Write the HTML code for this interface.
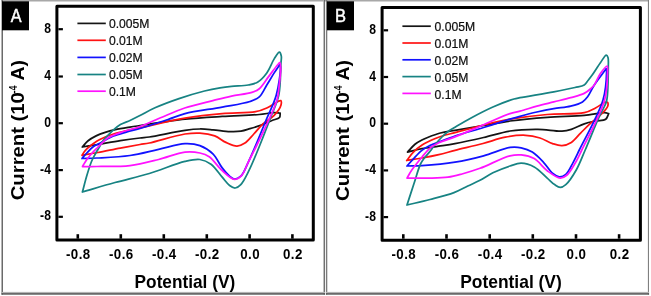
<!DOCTYPE html>
<html><head><meta charset="utf-8"><style>
html,body{margin:0;padding:0;background:#fff;}
svg{display:block;will-change:transform;filter:blur(0.3px);}
text{font-family:"Liberation Sans",sans-serif;}
.tky{font-weight:bold;font-size:15.2px;letter-spacing:0.3px;}
.tkx{font-weight:bold;font-size:14.8px;letter-spacing:0.5px;}
.ax{font-weight:bold;font-size:19px;}
.lg{font-size:12.6px;stroke:#000;stroke-width:0.2px;fill:#111;}
.pl{font-size:18px;fill:#fff;stroke:#fff;stroke-width:0.45px;}
</style></head><body>
<svg width="651" height="296" viewBox="0 0 651 296">
<rect width="651" height="296" fill="#fff"/>
<rect x="1.5" y="0" width="647.5" height="1.5" fill="#a8a8a8"/><rect x="1.5" y="0" width="1.5" height="294.6" fill="#6a6a6a"/><rect x="323.2" y="0" width="0.9" height="294.6" fill="#b0b0b0"/><rect x="324.1" y="0" width="0.9" height="294.6" fill="#606060"/><rect x="325.9" y="0" width="1.4" height="294.6" fill="#7a7a7a"/><rect x="647.9" y="0" width="1.1" height="294.6" fill="#808080"/><rect x="1.5" y="291.9" width="323.5" height="1.2" fill="#b4b4b4"/><rect x="1.5" y="293.1" width="323.5" height="1.6" fill="#5a5a5a"/><rect x="325.9" y="291.9" width="323.2" height="1.2" fill="#b4b4b4"/><rect x="325.9" y="293.1" width="323.2" height="1.6" fill="#5a5a5a"/><rect x="2" y="1.3" width="27" height="29" fill="#000"/><text transform="translate(16.1,22.3) scale(0.9,1)" class="pl" text-anchor="middle">A</text><rect x="327" y="1.3" width="27" height="29" fill="#000"/><text transform="translate(340.4,22.3) scale(0.92,1)" class="pl" text-anchor="middle">B</text><path d="M82.30,147.00 C84.23,144.93 85.87,142.62 88.10,140.80 C90.44,138.89 93.28,137.29 96.10,135.90 C98.97,134.48 102.06,133.42 105.20,132.40 C108.45,131.34 111.60,130.52 115.30,129.70 C119.72,128.72 125.57,127.82 130.00,127.10 C133.65,126.50 135.47,126.26 140.00,125.60 C149.61,124.20 170.69,120.75 185.00,119.20 C197.97,117.79 209.80,117.18 222.20,116.40 C234.57,115.62 249.80,115.33 259.30,114.50 C265.26,113.98 269.94,112.79 273.80,112.70 C276.36,112.64 278.07,113.03 280.20,113.20 C279.97,114.63 280.41,116.36 279.50,117.50 C278.26,119.05 274.72,119.39 272.00,120.50 C268.74,121.84 264.94,123.64 261.30,125.00 C257.61,126.38 253.56,127.62 250.00,128.70 C246.84,129.66 244.18,130.71 241.00,131.20 C237.55,131.73 234.06,131.74 230.00,131.60 C224.94,131.43 218.30,130.24 213.00,129.80 C208.35,129.41 204.40,128.94 199.90,129.00 C195.09,129.06 191.01,129.48 185.00,130.30 C175.63,131.58 157.36,135.81 149.30,137.00 C145.21,137.60 143.67,137.55 140.00,138.00 C134.65,138.65 127.06,139.66 120.30,140.70 C113.09,141.81 104.79,143.38 98.00,144.50 C92.31,145.44 87.53,146.17 82.30,147.00Z" fill="none" stroke="#151515" stroke-width="1.75" stroke-linejoin="round"/>
<path d="M82.00,155.30 C83.13,153.63 83.88,151.99 85.40,150.30 C87.42,148.07 90.85,145.43 93.50,143.50 C95.81,141.81 97.58,140.58 100.30,139.20 C103.91,137.37 109.03,135.45 113.50,134.00 C117.93,132.56 122.53,131.54 127.00,130.50 C131.36,129.48 134.37,128.99 140.00,127.80 C150.49,125.59 170.66,120.61 185.00,118.20 C197.94,116.02 210.12,114.69 222.20,113.60 C233.62,112.57 247.51,113.24 255.60,111.70 C260.41,110.79 263.16,109.64 266.80,108.00 C270.60,106.28 275.38,102.63 277.90,101.50 C279.10,100.96 280.15,100.23 280.70,100.60 C281.37,101.06 281.44,103.31 281.00,105.00 C280.26,107.84 277.07,112.34 274.20,115.40 C271.15,118.65 266.41,120.68 263.00,123.80 C259.62,126.89 256.92,130.72 253.80,134.00 C250.75,137.21 247.66,141.27 244.50,143.30 C242.04,144.88 239.75,146.05 237.00,146.10 C233.67,146.16 229.53,144.04 225.90,142.40 C222.09,140.68 218.84,137.44 214.70,135.90 C210.24,134.24 204.86,133.41 199.90,133.10 C194.96,132.79 190.98,133.07 185.00,134.00 C175.60,135.45 157.37,141.34 149.30,143.00 C145.22,143.84 143.67,143.87 140.00,144.50 C134.65,145.42 127.07,146.81 120.30,148.10 C113.09,149.47 104.82,151.23 98.00,152.50 C92.23,153.57 87.33,154.37 82.00,155.30Z" fill="none" stroke="#ff1212" stroke-width="1.75" stroke-linejoin="round"/>
<path d="M82.00,158.50 C83.60,156.67 85.02,154.87 86.80,153.00 C88.81,150.88 91.12,148.21 93.50,146.50 C95.65,144.96 97.67,144.38 100.30,143.00 C103.98,141.08 108.98,137.86 113.50,136.00 C117.89,134.19 122.53,133.16 127.00,131.90 C131.36,130.67 134.87,129.99 140.00,128.50 C147.59,126.29 159.84,122.23 168.00,119.50 C174.38,117.37 178.15,115.37 185.00,113.60 C194.92,111.03 210.71,109.26 222.20,107.10 C232.15,105.23 243.31,103.78 250.00,101.50 C254.04,100.12 256.64,99.30 259.30,96.90 C262.40,94.11 264.32,88.99 266.80,85.00 C269.29,80.99 271.87,76.55 274.20,72.90 C276.16,69.82 277.93,67.30 279.80,64.50 C280.03,65.33 280.42,65.70 280.50,67.00 C280.77,71.28 278.80,85.90 276.30,95.00 C273.76,104.24 268.86,113.31 265.30,122.00 C261.97,130.13 258.66,138.43 255.60,145.60 C253.01,151.67 250.77,157.03 248.20,162.30 C245.82,167.19 243.72,173.51 240.80,176.20 C238.84,178.01 236.26,179.13 234.30,179.00 C232.58,178.89 231.23,177.55 229.60,176.20 C227.27,174.28 224.69,171.13 222.20,167.90 C219.14,163.93 216.73,157.66 212.90,153.90 C209.23,150.30 204.59,147.30 199.90,145.60 C195.28,143.93 190.65,143.47 185.00,143.70 C177.43,144.01 167.57,147.38 158.60,149.30 C149.26,151.30 139.93,154.06 130.00,155.50 C119.42,157.04 105.76,157.52 96.90,158.00 C90.96,158.32 86.97,158.33 82.00,158.50Z" fill="none" stroke="#1212ff" stroke-width="1.75" stroke-linejoin="round"/>
<path d="M82.40,192.00 C83.93,186.33 85.40,180.32 87.00,175.00 C88.44,170.22 89.96,165.22 91.50,161.50 C92.64,158.74 93.80,156.72 95.00,154.50 C96.13,152.40 97.25,150.64 98.50,148.50 C99.95,146.02 101.47,142.81 103.20,140.50 C104.74,138.45 106.51,136.94 108.20,135.20 C109.88,133.47 111.40,131.77 113.30,130.10 C115.42,128.23 117.74,126.16 120.40,124.60 C123.26,122.92 126.79,121.99 130.00,120.50 C133.32,118.96 136.34,117.36 140.00,115.50 C144.50,113.22 149.34,110.33 155.00,107.80 C161.99,104.68 170.82,101.38 179.00,98.60 C187.32,95.77 197.02,92.88 204.50,91.00 C210.27,89.55 215.20,88.61 220.00,87.80 C224.11,87.11 227.30,86.74 231.50,86.30 C236.54,85.78 243.48,85.88 248.20,85.00 C251.79,84.33 254.60,83.93 257.50,82.20 C260.87,80.18 264.11,76.55 266.80,72.90 C269.76,68.90 271.80,62.65 274.20,58.90 C275.97,56.14 278.17,51.96 279.40,52.10 C280.30,52.20 280.99,54.59 281.30,56.20 C281.70,58.26 281.10,60.28 280.90,63.60 C280.49,70.44 280.78,85.59 278.80,95.00 C277.09,103.12 273.72,109.24 270.80,117.00 C267.49,125.79 263.62,135.90 259.90,145.00 C256.31,153.78 252.51,163.53 248.90,170.70 C246.16,176.14 243.64,181.71 240.80,184.60 C238.99,186.44 237.10,187.88 235.20,188.00 C233.36,188.12 231.45,186.85 229.60,185.50 C227.11,183.68 224.91,180.29 222.20,177.20 C218.84,173.36 215.10,167.19 211.00,164.20 C207.56,161.69 203.95,160.06 199.90,159.50 C195.37,158.88 190.95,160.03 185.00,161.40 C175.57,163.58 161.14,169.94 149.30,173.50 C137.81,176.95 126.27,179.38 115.00,182.50 C103.97,185.55 93.27,188.83 82.40,192.00Z" fill="none" stroke="#178383" stroke-width="1.75" stroke-linejoin="round"/>
<path d="M82.50,166.50 C83.93,164.17 85.20,161.74 86.80,159.50 C88.43,157.23 90.36,155.04 92.20,153.00 C93.96,151.05 95.89,149.24 97.60,147.50 C99.14,145.93 100.38,144.52 102.00,143.00 C103.83,141.29 105.57,139.36 108.10,137.80 C111.35,135.79 115.70,134.29 120.30,132.60 C126.04,130.50 133.43,128.90 140.00,126.50 C146.83,124.00 153.37,120.76 160.50,117.80 C168.22,114.60 176.23,110.81 184.70,108.00 C193.65,105.03 204.47,102.73 212.90,100.60 C219.73,98.88 225.14,97.45 231.50,96.10 C238.12,94.70 246.87,94.07 251.90,92.40 C255.07,91.34 256.91,90.67 259.30,88.70 C262.54,86.02 265.50,80.63 268.60,76.60 C271.70,72.57 275.91,66.71 277.90,64.50 C278.72,63.59 279.34,62.54 279.80,62.70 C280.53,62.96 280.64,66.47 280.70,69.20 C280.79,73.80 279.60,82.26 278.90,87.80 C278.33,92.30 278.54,94.79 277.00,100.00 C273.92,110.42 262.33,133.57 256.90,145.00 C253.50,152.17 250.89,156.94 248.20,162.30 C245.87,166.94 244.47,172.41 241.70,175.30 C239.59,177.51 237.01,179.56 234.30,179.40 C230.70,179.19 226.14,174.17 222.20,170.70 C217.74,166.77 213.50,159.65 209.20,156.70 C206.08,154.57 203.44,153.79 199.90,153.00 C195.58,152.04 190.61,151.50 185.00,152.10 C177.39,152.91 167.61,157.28 158.60,159.50 C149.29,161.79 139.94,164.42 130.00,165.60 C119.42,166.86 105.67,166.38 96.90,166.50 C91.12,166.58 87.30,166.50 82.50,166.50Z" fill="none" stroke="#ff12ff" stroke-width="1.75" stroke-linejoin="round"/>
<rect x="56.9" y="6.3" width="256.4" height="233.8" fill="none" stroke="#000" stroke-width="3" stroke-linejoin="round"/>
<line x1="58.4" y1="29.2" x2="62.9" y2="29.2" stroke="#000" stroke-width="2.2"/>
<text transform="translate(51.20,32.70) scale(0.800,1)" class="tky" text-anchor="end">8</text>
<line x1="58.4" y1="76.5" x2="62.9" y2="76.5" stroke="#000" stroke-width="2.2"/>
<text transform="translate(51.20,80.00) scale(0.800,1)" class="tky" text-anchor="end">4</text>
<line x1="58.4" y1="123.2" x2="62.9" y2="123.2" stroke="#000" stroke-width="2.2"/>
<text transform="translate(51.20,126.70) scale(0.800,1)" class="tky" text-anchor="end">0</text>
<line x1="58.4" y1="170.1" x2="62.9" y2="170.1" stroke="#000" stroke-width="2.2"/>
<text transform="translate(51.20,173.60) scale(0.800,1)" class="tky" text-anchor="end">-4</text>
<line x1="58.4" y1="216.8" x2="62.9" y2="216.8" stroke="#000" stroke-width="2.2"/>
<text transform="translate(51.20,220.30) scale(0.800,1)" class="tky" text-anchor="end">-8</text>
<line x1="77.8" y1="238.7" x2="77.8" y2="234.2" stroke="#000" stroke-width="2.6"/>
<text transform="translate(78.30,259.20) scale(0.900,1)" class="tkx" text-anchor="middle">-0.8</text>
<line x1="120.8" y1="238.7" x2="120.8" y2="234.2" stroke="#000" stroke-width="2.6"/>
<text transform="translate(121.30,259.20) scale(0.900,1)" class="tkx" text-anchor="middle">-0.6</text>
<line x1="163.8" y1="238.7" x2="163.8" y2="234.2" stroke="#000" stroke-width="2.6"/>
<text transform="translate(164.30,259.20) scale(0.900,1)" class="tkx" text-anchor="middle">-0.4</text>
<line x1="206.8" y1="238.7" x2="206.8" y2="234.2" stroke="#000" stroke-width="2.6"/>
<text transform="translate(207.30,259.20) scale(0.900,1)" class="tkx" text-anchor="middle">-0.2</text>
<line x1="249.6" y1="238.7" x2="249.6" y2="234.2" stroke="#000" stroke-width="2.6"/>
<text transform="translate(250.10,259.20) scale(0.900,1)" class="tkx" text-anchor="middle">0.0</text>
<line x1="292.4" y1="238.7" x2="292.4" y2="234.2" stroke="#000" stroke-width="2.6"/>
<text transform="translate(292.90,259.20) scale(0.900,1)" class="tkx" text-anchor="middle">0.2</text>
<line x1="77.4" y1="23.4" x2="105.8" y2="23.4" stroke="#151515" stroke-width="1.7"/>
<text transform="translate(108.90,28.10) scale(0.965,1)" class="lg">0.005M</text>
<line x1="77.4" y1="40.3" x2="105.8" y2="40.3" stroke="#ff1212" stroke-width="1.7"/>
<text transform="translate(108.90,45.00) scale(0.965,1)" class="lg">0.01M</text>
<line x1="77.4" y1="57.4" x2="105.8" y2="57.4" stroke="#1212ff" stroke-width="1.7"/>
<text transform="translate(108.90,62.10) scale(0.965,1)" class="lg">0.02M</text>
<line x1="77.4" y1="74.5" x2="105.8" y2="74.5" stroke="#178383" stroke-width="1.7"/>
<text transform="translate(108.90,79.20) scale(0.965,1)" class="lg">0.05M</text>
<line x1="77.4" y1="91.2" x2="105.8" y2="91.2" stroke="#ff12ff" stroke-width="1.7"/>
<text transform="translate(108.90,95.90) scale(0.965,1)" class="lg">0.1M</text>
<text x="134.6" y="288.3" class="ax" textLength="100.6" lengthAdjust="spacingAndGlyphs">Potential (V)</text>
<text transform="translate(23.60,200.30) rotate(-90)" class="ax" style="font-size:18.0px" textLength="108.20" lengthAdjust="spacingAndGlyphs">Current (10</text>
<text transform="translate(23.60,93.40) rotate(-90)" class="ax" style="font-size:10.5px" y="-7.00" textLength="7.90" lengthAdjust="spacingAndGlyphs">-4</text>
<text transform="translate(23.60,80.60) rotate(-90)" class="ax" style="font-size:18.0px" textLength="20.50" lengthAdjust="spacingAndGlyphs">A)</text><path d="M407.50,152.10 C410.00,149.47 412.41,146.29 415.00,144.20 C417.23,142.40 419.61,141.20 421.90,140.00 C424.01,138.89 425.74,138.17 428.20,137.20 C431.56,135.87 436.02,134.13 440.30,133.00 C444.92,131.78 449.29,131.30 455.00,130.30 C462.96,128.90 474.26,127.08 483.60,125.50 C492.58,123.98 500.42,122.29 510.00,121.00 C521.32,119.47 534.80,118.23 547.20,117.30 C559.56,116.37 573.77,116.36 584.30,115.40 C592.16,114.68 600.66,112.50 604.80,112.70 C606.62,112.79 607.40,113.30 608.70,113.60 C607.70,115.47 607.43,117.95 605.70,119.20 C603.49,120.80 598.97,120.26 595.50,121.00 C591.84,121.78 588.12,122.51 584.30,123.80 C580.07,125.23 575.33,128.16 571.30,129.40 C568.00,130.42 565.84,130.98 562.00,131.20 C555.86,131.56 546.23,129.47 537.90,129.40 C528.94,129.32 519.11,129.63 510.00,131.00 C501.01,132.35 492.59,135.43 483.60,137.50 C474.27,139.64 463.20,142.07 455.00,143.60 C448.85,144.75 444.26,145.36 438.80,146.20 C433.23,147.06 427.29,147.67 421.90,148.70 C416.89,149.66 412.30,150.97 407.50,152.10Z" fill="none" stroke="#151515" stroke-width="1.75" stroke-linejoin="round"/>
<path d="M406.70,160.50 C408.93,157.70 410.87,154.66 413.40,152.10 C415.99,149.48 418.76,147.15 422.10,145.00 C425.92,142.54 431.14,140.24 435.30,138.50 C438.84,137.02 442.05,135.98 445.40,135.00 C448.62,134.06 450.96,133.73 455.00,132.70 C462.00,130.92 474.23,127.29 483.60,125.00 C492.55,122.81 500.41,120.86 510.00,119.20 C521.30,117.25 534.79,115.58 547.20,114.50 C559.55,113.42 575.65,114.66 584.30,112.70 C589.25,111.58 592.00,109.78 595.50,108.00 C598.81,106.32 602.59,103.11 604.80,102.40 C605.88,102.05 606.88,101.76 607.40,102.20 C608.03,102.73 608.19,104.61 607.80,106.00 C607.19,108.19 604.53,110.94 602.10,113.50 C598.93,116.83 593.63,120.38 589.90,123.80 C586.52,126.91 583.70,130.00 580.60,133.10 C577.50,136.20 574.66,140.30 571.30,142.40 C568.39,144.22 565.14,145.41 562.00,145.60 C558.90,145.79 555.90,144.67 552.60,143.60 C548.64,142.32 544.43,139.38 540.00,138.00 C535.42,136.58 530.75,135.54 525.50,135.30 C519.34,135.02 512.14,135.92 505.30,137.20 C497.99,138.56 490.87,141.42 483.00,143.50 C474.22,145.82 463.06,148.36 455.00,150.40 C448.86,151.95 444.27,153.34 438.80,154.60 C433.24,155.88 427.39,157.00 421.90,158.00 C416.71,158.95 411.77,159.67 406.70,160.50Z" fill="none" stroke="#ff1212" stroke-width="1.75" stroke-linejoin="round"/>
<path d="M407.00,166.00 C409.13,163.63 411.08,161.34 413.40,158.90 C416.00,156.16 418.93,152.73 421.90,150.40 C424.59,148.29 427.43,146.72 430.30,145.30 C433.07,143.94 435.51,143.25 438.80,142.00 C443.33,140.28 448.80,138.07 455.00,136.00 C463.15,133.28 474.27,130.35 483.60,127.50 C492.59,124.75 503.29,121.23 510.00,119.20 C514.12,117.96 516.22,117.33 520.00,116.30 C524.89,114.97 531.25,113.29 536.90,112.00 C542.52,110.72 548.15,109.58 553.80,108.60 C559.42,107.62 565.63,107.37 570.70,106.10 C575.04,105.02 579.53,103.78 582.50,101.90 C584.75,100.48 585.93,98.99 587.60,96.80 C589.89,93.79 591.60,89.17 594.30,85.00 C597.60,79.89 602.30,74.07 606.30,68.60 C606.40,69.73 606.63,70.32 606.60,72.00 C606.50,76.83 606.05,89.60 603.00,100.00 C598.73,114.57 584.65,138.96 579.30,150.00 C576.63,155.50 575.43,158.27 573.20,162.30 C570.93,166.40 568.64,172.07 565.80,174.40 C563.82,176.03 561.44,176.92 559.30,176.80 C557.11,176.67 554.98,175.24 552.80,173.50 C549.72,171.04 546.88,165.84 543.50,162.30 C540.06,158.69 536.27,154.55 532.30,152.10 C528.78,149.92 524.97,148.58 521.20,147.80 C517.54,147.05 514.46,146.79 510.00,147.40 C502.99,148.36 492.63,153.36 483.60,155.80 C474.31,158.31 464.93,160.58 455.00,162.20 C444.42,163.92 430.77,165.03 421.90,165.60 C415.96,165.98 411.97,165.87 407.00,166.00Z" fill="none" stroke="#1212ff" stroke-width="1.75" stroke-linejoin="round"/>
<path d="M407.00,205.00 C409.33,197.83 411.70,190.49 414.00,183.50 C416.20,176.84 418.39,168.42 420.50,164.00 C421.69,161.51 422.59,160.43 424.00,158.50 C425.73,156.14 428.47,153.34 430.30,151.00 C431.82,149.05 432.67,147.51 434.30,145.50 C436.47,142.82 439.83,139.04 442.40,136.50 C444.49,134.43 446.28,132.76 448.40,131.20 C450.48,129.67 452.32,128.78 455.00,127.20 C459.09,124.78 464.89,121.28 470.60,118.20 C477.32,114.58 485.49,110.26 492.90,107.00 C499.95,103.90 509.07,100.46 514.00,99.00 C516.57,98.24 517.18,98.25 520.00,97.70 C526.67,96.40 543.85,93.68 553.80,91.80 C561.70,90.31 569.40,88.83 575.00,87.50 C578.71,86.62 581.95,86.44 584.20,85.00 C585.97,83.87 586.73,82.07 588.00,80.50 C589.34,78.84 590.46,77.44 592.00,75.30 C594.33,72.04 597.79,66.33 600.40,62.70 C602.48,59.81 604.95,55.06 606.30,55.10 C607.06,55.12 607.62,56.43 608.00,57.60 C608.67,59.66 608.33,62.85 608.30,66.90 C608.25,74.55 608.11,93.47 606.80,100.00 C606.22,102.87 605.59,103.70 604.60,106.00 C603.19,109.29 601.05,112.79 598.80,117.70 C595.11,125.75 589.29,140.58 585.20,150.00 C581.99,157.39 579.80,163.74 576.40,169.70 C573.27,175.18 569.12,181.76 565.80,184.60 C563.86,186.26 562.07,187.40 560.20,187.40 C558.33,187.40 556.51,185.89 554.60,184.60 C552.20,182.99 550.02,180.54 547.20,178.10 C543.48,174.88 538.82,169.50 534.20,167.00 C530.09,164.78 525.38,163.28 521.20,163.20 C517.34,163.12 514.08,164.69 510.00,166.00 C504.85,167.66 498.11,170.27 492.90,172.80 C488.21,175.08 484.29,178.06 480.00,180.30 C475.92,182.43 471.99,184.02 467.80,186.00 C463.34,188.11 459.33,190.58 454.00,192.60 C447.19,195.19 437.94,197.41 430.00,199.50 C422.27,201.53 414.67,203.17 407.00,205.00Z" fill="none" stroke="#178383" stroke-width="1.75" stroke-linejoin="round"/>
<path d="M407.00,178.10 C408.60,175.40 409.79,172.93 411.80,170.00 C414.45,166.14 418.63,161.08 421.90,157.20 C424.77,153.80 427.30,150.37 430.30,147.90 C432.97,145.70 435.42,144.41 438.80,142.80 C443.25,140.68 448.87,139.32 455.00,136.90 C463.23,133.65 474.25,128.66 483.60,124.70 C492.57,120.90 503.22,115.82 510.00,113.60 C514.06,112.27 516.25,112.22 520.00,111.20 C524.92,109.87 531.25,107.65 536.90,106.10 C542.51,104.56 548.17,103.30 553.80,101.90 C559.43,100.50 565.41,99.20 570.70,97.70 C575.48,96.35 580.58,95.24 584.20,93.40 C586.99,91.98 589.19,89.98 591.00,88.40 C592.36,87.22 593.15,86.57 594.30,85.00 C596.20,82.40 598.09,76.90 600.40,73.60 C602.45,70.67 606.15,65.65 607.20,66.00 C607.93,66.25 607.63,68.65 607.60,71.00 C607.53,76.67 607.51,89.29 604.60,100.00 C600.60,114.70 587.23,138.72 581.80,150.00 C578.98,155.85 577.62,158.98 575.10,163.20 C572.59,167.41 569.69,172.85 566.70,175.30 C564.63,177.00 562.70,178.24 560.20,178.10 C556.57,177.90 551.36,173.76 547.20,170.70 C542.66,167.37 538.87,161.23 534.20,158.60 C530.12,156.30 525.41,155.32 521.20,154.90 C517.36,154.52 514.53,154.70 510.00,155.80 C502.30,157.66 488.79,165.08 480.00,168.30 C473.30,170.75 467.65,172.46 462.00,174.00 C457.07,175.34 453.12,176.51 448.00,177.20 C441.94,178.02 434.67,177.95 427.90,178.10 C421.00,178.25 413.97,178.10 407.00,178.10Z" fill="none" stroke="#ff12ff" stroke-width="1.75" stroke-linejoin="round"/>
<rect x="382.1" y="7.4" width="258.3" height="232.8" fill="none" stroke="#000" stroke-width="3" stroke-linejoin="round"/>
<line x1="383.6" y1="30.3" x2="388.1" y2="30.3" stroke="#000" stroke-width="2.2"/>
<text transform="translate(376.20,33.80) scale(0.800,1)" class="tky" text-anchor="end">8</text>
<line x1="383.6" y1="77.0" x2="388.1" y2="77.0" stroke="#000" stroke-width="2.2"/>
<text transform="translate(376.20,80.50) scale(0.800,1)" class="tky" text-anchor="end">4</text>
<line x1="383.6" y1="123.7" x2="388.1" y2="123.7" stroke="#000" stroke-width="2.2"/>
<text transform="translate(376.20,127.20) scale(0.800,1)" class="tky" text-anchor="end">0</text>
<line x1="383.6" y1="170.4" x2="388.1" y2="170.4" stroke="#000" stroke-width="2.2"/>
<text transform="translate(376.20,173.90) scale(0.800,1)" class="tky" text-anchor="end">-4</text>
<line x1="383.6" y1="217.1" x2="388.1" y2="217.1" stroke="#000" stroke-width="2.2"/>
<text transform="translate(376.20,220.60) scale(0.800,1)" class="tky" text-anchor="end">-8</text>
<line x1="403.3" y1="238.7" x2="403.3" y2="234.2" stroke="#000" stroke-width="2.6"/>
<text transform="translate(403.80,259.20) scale(0.900,1)" class="tkx" text-anchor="middle">-0.8</text>
<line x1="446.5" y1="238.7" x2="446.5" y2="234.2" stroke="#000" stroke-width="2.6"/>
<text transform="translate(447.00,259.20) scale(0.900,1)" class="tkx" text-anchor="middle">-0.6</text>
<line x1="489.7" y1="238.7" x2="489.7" y2="234.2" stroke="#000" stroke-width="2.6"/>
<text transform="translate(490.20,259.20) scale(0.900,1)" class="tkx" text-anchor="middle">-0.4</text>
<line x1="532.8" y1="238.7" x2="532.8" y2="234.2" stroke="#000" stroke-width="2.6"/>
<text transform="translate(533.30,259.20) scale(0.900,1)" class="tkx" text-anchor="middle">-0.2</text>
<line x1="576.0" y1="238.7" x2="576.0" y2="234.2" stroke="#000" stroke-width="2.6"/>
<text transform="translate(576.50,259.20) scale(0.900,1)" class="tkx" text-anchor="middle">0.0</text>
<line x1="619.1" y1="238.7" x2="619.1" y2="234.2" stroke="#000" stroke-width="2.6"/>
<text transform="translate(619.60,259.20) scale(0.900,1)" class="tkx" text-anchor="middle">0.2</text>
<line x1="402.4" y1="26.2" x2="430.8" y2="26.2" stroke="#151515" stroke-width="1.7"/>
<text transform="translate(434.50,31.45) scale(0.965,1)" class="lg">0.005M</text>
<line x1="402.4" y1="43.0" x2="430.8" y2="43.0" stroke="#ff1212" stroke-width="1.7"/>
<text transform="translate(434.50,48.20) scale(0.965,1)" class="lg">0.01M</text>
<line x1="402.4" y1="59.8" x2="430.8" y2="59.8" stroke="#1212ff" stroke-width="1.7"/>
<text transform="translate(434.50,65.00) scale(0.965,1)" class="lg">0.02M</text>
<line x1="402.4" y1="76.6" x2="430.8" y2="76.6" stroke="#178383" stroke-width="1.7"/>
<text transform="translate(434.50,81.80) scale(0.965,1)" class="lg">0.05M</text>
<line x1="402.4" y1="93.4" x2="430.8" y2="93.4" stroke="#ff12ff" stroke-width="1.7"/>
<text transform="translate(434.50,98.60) scale(0.965,1)" class="lg">0.1M</text>
<text x="460.2" y="288.3" class="ax" textLength="101.6" lengthAdjust="spacingAndGlyphs">Potential (V)</text>
<text transform="translate(348.90,200.90) rotate(-90)" class="ax" style="font-size:18.0px" textLength="108.80" lengthAdjust="spacingAndGlyphs">Current (10</text>
<text transform="translate(348.90,93.40) rotate(-90)" class="ax" style="font-size:10.5px" y="-7.00" textLength="7.90" lengthAdjust="spacingAndGlyphs">-4</text>
<text transform="translate(348.90,80.60) rotate(-90)" class="ax" style="font-size:18.0px" textLength="20.50" lengthAdjust="spacingAndGlyphs">A)</text></svg>
</body></html>
